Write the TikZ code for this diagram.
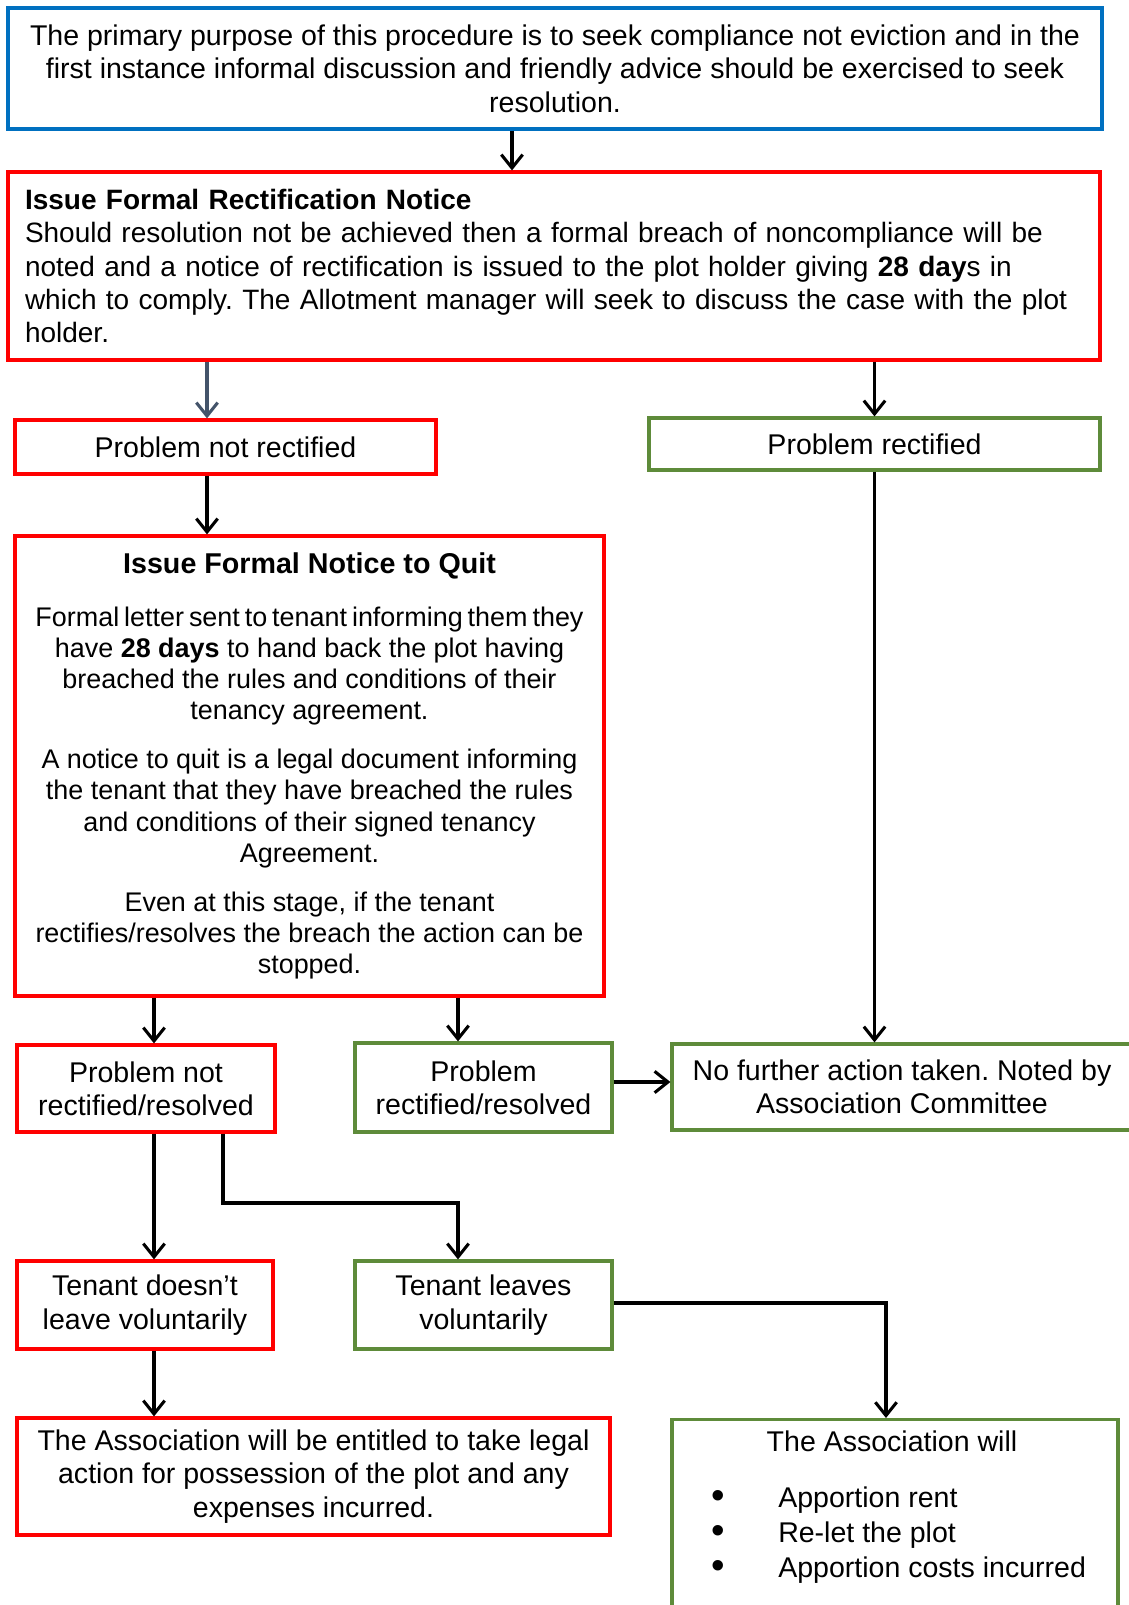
\documentclass[tikz,border=0pt]{standalone}
\usepackage{fontspec}
\setmainfont{Liberation Sans}
\usetikzlibrary{arrows.meta}
\definecolor{bblue}{HTML}{0070C0}
\definecolor{rred}{HTML}{FF0000}
\definecolor{ggreen}{HTML}{5E8B3A}
\definecolor{slate}{HTML}{44546A}
\newcommand\mainfs{\fontsize{21.4pt}{25pt}\selectfont}
\newcommand\bul{\makebox[48.75pt][l]{\hspace*{-1pt}\raisebox{-1pt}{\scalebox{1.35}{\textbullet}}}}
\frenchspacing
\begin{document}
\begin{tikzpicture}[x=0.75pt,y=-0.75pt,
  box/.style={draw, line width=2.4pt, inner sep=0pt, align=center, font=\mainfs},
  bluebox/.style={box, draw=bblue, line width=3pt},
  redbox/.style={box, draw=rred},
  greenbox/.style={box, draw=ggreen},
  txt/.style={inner sep=0pt, font=\mainfs},
  arr/.style={draw=black, line width=2.3pt, -{Straight Barb[length=10pt,width=16pt]}},
]
\useasboundingbox (0,0) rectangle (1128,1605);

% boxes
\node[bluebox, minimum width=820.5pt, minimum height=90.75pt, font=\fontsize{21.4pt}{25.1pt}\selectfont] (purpose) at (555,68.5)
  {The primary purpose of this procedure is to seek compliance not eviction and in the\\
   first instance informal discussion and friendly advice should be exercised to seek\\
   resolution.};

\node[redbox, minimum width=819pt, minimum height=141pt, text width=793.5pt, align=left, font=\fontsize{21pt}{25.1pt}\selectfont] (rect) at (554,266)
  {\mbox{\textbf{Issue Formal Rectification Notice}}\\
   \mbox{Should resolution not be achieved then a formal breach of noncompliance will be}\\
   \mbox{noted and a notice of rectification is issued to the plot holder giving \textbf{28 day}s in}\\
   \mbox{which to comply. The Allotment manager will seek to discuss the case with the plot}\\
   \mbox{holder.}};

\node[redbox, minimum width=315.75pt, minimum height=40.5pt] (pnr) at (225.5,447) {Problem not rectified};
\node[greenbox, minimum width=338.25pt, minimum height=39pt] (pr) at (874.5,444) {Problem rectified};

\node[redbox, minimum width=441.75pt, minimum height=345pt, font=\fontsize{20.2pt}{23.4pt}\selectfont] (ntq) at (309.5,766)
  {{\fontsize{21.5pt}{23.4pt}\selectfont\textbf{Issue Formal Notice to Quit}}\\[16pt]
   {\spaceskip=3.7pt\relax Formal letter sent to tenant informing them they}\\
   have \textbf{28 days} to hand back the plot having\\
   breached the rules and conditions of their\\
   tenancy agreement.\\[13.3pt]
   A notice to quit is a legal document informing\\
   the tenant that they have breached the rules\\
   and conditions of their signed tenancy\\
   Agreement.\\[13.3pt]
   Even at this stage, if the tenant\\
   rectifies/resolves the breach the action can be\\
   stopped.};

\node[redbox, minimum width=193.5pt, minimum height=65.25pt] (pnrr) at (146,1088.5) {Problem not\\ rectified/resolved};
\node[greenbox, minimum width=192.75pt, minimum height=66.75pt] (prr) at (483.5,1087.5) {Problem\\ rectified/resolved};
\node[greenbox, minimum width=345pt, minimum height=64.5pt] (nfa) at (902,1087) {No further action taken. Noted by\\ Association Committee};

\node[redbox, minimum width=192pt, minimum height=66pt] (tdl) at (145,1305) {Tenant doesn’t\\ leave voluntarily};
\node[greenbox, minimum width=192.75pt, minimum height=66pt] (tlv) at (483.5,1305) {Tenant leaves\\ voluntarily};

\node[redbox, minimum width=444.75pt, minimum height=87.75pt] (legal) at (313.5,1476.5)
  {The Association will be entitled to take legal\\ action for possession of the plot and any\\ expenses incurred.};

\node[greenbox, minimum width=334.5pt, minimum height=170pt, anchor=north] (assoc) at (895,1418) {};
\node[txt, anchor=base] (assoctitle) at (892,1451) {The Association will};
\node[txt, anchor=base west] (b1) at (713,1507.5) {\bul Apportion rent};
\node[txt, anchor=base west] (b2) at (713,1542.3) {\bul Re-let the plot};
\node[txt, anchor=base west] (b3) at (713,1577.1) {\bul Apportion costs incurred};

% helper coordinates
\coordinate (c512) at (512,0);
\coordinate (c207) at (207,0);
\coordinate (c154) at (154,0);
\coordinate (c458) at (458,0);
\coordinate (c223) at (223,0);
\coordinate (c886) at (886,0);
\coordinate (r1082) at (0,1082);
\coordinate (r1303) at (0,1303);
\coordinate (k1) at (458,1203);

% connectors
\draw[arr] (purpose.south -| c512) -- (rect.north -| c512);
\draw[arr, draw=slate] (rect.south -| c207) -- (pnr.north -| c207);
\draw[arr] (rect.south -| pr.north) -- (pr.north);
\draw[arr] (pnr.south -| c207) -- (ntq.north -| c207);
\draw[arr] (ntq.south -| c154) -- (pnrr.north -| c154);
\draw[arr] (ntq.south -| c458) -- (prr.north -| c458);
\draw[arr] (pr.south) -- (nfa.north -| pr.south);
\draw[arr] (prr.east |- r1082) -- (nfa.west |- r1082);
\draw[arr] (pnrr.south -| c154) -- (tdl.north -| c154);
\draw[arr] (pnrr.south -| c223) |- (k1) -- (tlv.north -| c458);
\draw[arr] (tlv.east |- r1303) -| (assoc.north -| c886);
\draw[arr] (tdl.south -| c154) -- (legal.north -| c154);
\end{tikzpicture}
\end{document}
